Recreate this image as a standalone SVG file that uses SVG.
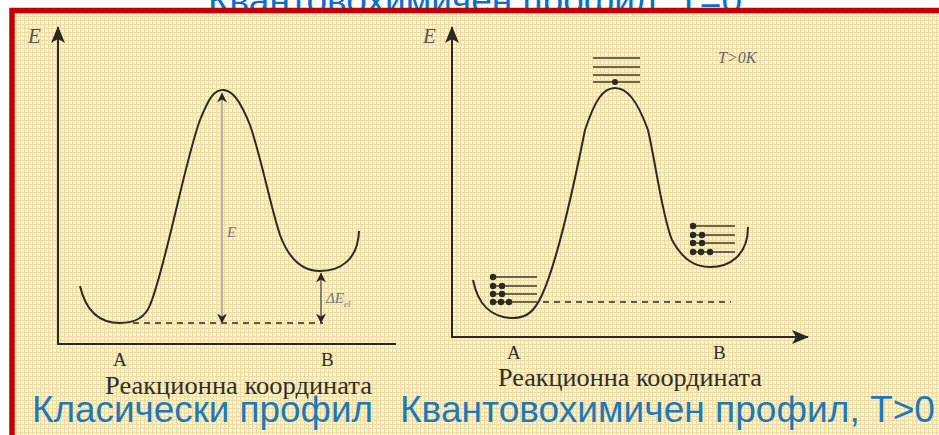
<svg xmlns="http://www.w3.org/2000/svg" width="939" height="435" viewBox="0 0 939 435">
<defs>
<pattern id="grid" width="4" height="4" patternUnits="userSpaceOnUse">
<rect width="4" height="4" fill="#f8f1d8"/>
<rect x="0" y="0" width="4" height="1" fill="#eddc9f"/>
<rect x="0" y="0" width="1" height="4" fill="#eddc9f"/>
</pattern>
<marker id="axhead" viewBox="0 0 17 14" refX="16" refY="7" markerWidth="17" markerHeight="14" markerUnits="userSpaceOnUse" orient="auto">
<path d="M0,0 L17,7 L0,14 L4,7 Z" fill="#2b2a22"/>
</marker>
<marker id="dimhead" viewBox="0 0 10 10" refX="9.5" refY="5" markerWidth="10" markerHeight="10" markerUnits="userSpaceOnUse" orient="auto-start-reverse">
<path d="M0,0 L10,5 L0,10 L3,5 Z" fill="#2b2a22"/>
</marker>
</defs>
<style>
.blue{font-family:"Liberation Sans",Arial,sans-serif;font-size:36px;fill:#1f79b7}
.ser{font-family:"Liberation Serif","Times New Roman",serif;fill:#2e2e28}
.it{font-style:italic}
.axis{stroke:#2b2a22;stroke-width:2;fill:none}
.curve{stroke:#2b2a22;stroke-width:2;fill:none}
.lvl{stroke:#3a3a30;stroke-width:1.6}
.dash{stroke:#2b2a22;stroke-width:1.6;stroke-dasharray:6 5}
.dot{fill:#2b2a22}
</style>
<rect width="939" height="435" fill="#ffffff"/>
<text id="title" class="blue" x="208" y="13" style="fill:#0b6fca" textLength="534" lengthAdjust="spacingAndGlyphs">Квантовохимичен профил, T=0</text>
<rect id="frame" x="12" y="10.5" width="960" height="460" fill="url(#grid)" stroke="#c40000" stroke-width="5.5"/>

<g id="classical">
<g id="left-axes">
<line class="axis" x1="58" y1="344" x2="58" y2="27" marker-end="url(#axhead)"/>
<line class="axis" x1="57" y1="344" x2="396" y2="344"/>
<text class="ser it" x="28" y="43" font-size="21" style="fill:#555">E</text>
</g>
<path id="left-curve" class="curve" d="M80,286 C86,312 100,323 120,323 C135,323 145,318 150,305 C165,270 185,160 200,120 C210,95 215,90 223,90 C232,90 240,100 250,125 C262,160 270,205 280,235 C290,262 305,271 320,271 C340,271 358,260 359,231"/>
<line class="dash" x1="133" y1="323" x2="323" y2="323"/>
<line x1="222" y1="93" x2="222" y2="323" stroke="#9a9a92" stroke-width="1.4" marker-start="url(#dimhead)" marker-end="url(#dimhead)"/>
<text class="ser it" x="227" y="237" font-size="15" style="fill:#777">E</text>
<line x1="321" y1="273" x2="321" y2="323" stroke="#555" stroke-width="1.4" marker-start="url(#dimhead)" marker-end="url(#dimhead)"/>
<text class="ser it" x="326" y="303" font-size="15" style="fill:#777">ΔE<tspan font-size="9" dy="4">el</tspan></text>
<text class="ser" x="113" y="366" font-size="19">A</text>
<text class="ser" x="321" y="366" font-size="19">B</text>
<text class="ser" x="105" y="394" font-size="25" textLength="267" lengthAdjust="spacingAndGlyphs">Реакционна координата</text>
</g>

<g id="quantum">
<g id="right-axes">
<line class="axis" x1="452" y1="337" x2="452" y2="27" marker-end="url(#axhead)"/>
<line class="axis" x1="451" y1="337" x2="808" y2="337" marker-end="url(#axhead)"/>
<text class="ser it" x="423" y="43" font-size="21" style="fill:#555">E</text>
</g>
<text class="ser it" x="718" y="63" font-size="16" style="fill:#666">T&gt;0K</text>
<path id="right-curve" class="curve" d="M473,280 C478,305 492,318 513,318 C528,318 535,310 542,295 C558,260 574,185 585,130 C595,100 603,88 615,88 C627,88 637,100 648,130 C657,170 662,215 672,240 C684,262 697,267 710,267 C730,267 748,255 748,227"/>
<g id="top-levels">
<line class="lvl" x1="593" y1="58" x2="640" y2="58"/>
<line class="lvl" x1="593" y1="67" x2="640" y2="67"/>
<line class="lvl" x1="593" y1="75" x2="640" y2="75"/>
<line class="lvl" x1="593" y1="82" x2="640" y2="82"/>
<circle class="dot" cx="615" cy="82" r="3"/>
</g>
<g id="a-levels">
<line class="lvl" x1="493" y1="277" x2="537" y2="277"/>
<line class="lvl" x1="493" y1="286" x2="537" y2="286"/>
<line class="lvl" x1="493" y1="294" x2="537" y2="294"/>
<line class="lvl" x1="493" y1="302" x2="537" y2="302"/>
<circle class="dot" cx="493" cy="277" r="3.2"/>
<circle class="dot" cx="493" cy="286" r="3.2"/><circle class="dot" cx="502" cy="286" r="3.2"/>
<circle class="dot" cx="493" cy="294" r="3.2"/><circle class="dot" cx="502" cy="294" r="3.2"/>
<circle class="dot" cx="493" cy="302" r="3.2"/><circle class="dot" cx="501" cy="302" r="3.2"/><circle class="dot" cx="509" cy="302" r="3.2"/>
</g>
<line class="dash" x1="543" y1="302" x2="731" y2="302"/>
<g id="b-levels">
<line class="lvl" x1="693" y1="226" x2="735" y2="226"/>
<line class="lvl" x1="693" y1="235" x2="735" y2="235"/>
<line class="lvl" x1="693" y1="243" x2="735" y2="243"/>
<line class="lvl" x1="693" y1="252" x2="735" y2="252"/>
<circle class="dot" cx="693" cy="226" r="3.2"/>
<circle class="dot" cx="693" cy="235" r="3.2"/><circle class="dot" cx="702" cy="235" r="3.2"/>
<circle class="dot" cx="693" cy="243" r="3.2"/><circle class="dot" cx="702" cy="243" r="3.2"/>
<circle class="dot" cx="693" cy="252" r="3.2"/><circle class="dot" cx="701" cy="252" r="3.2"/><circle class="dot" cx="710" cy="252" r="3.2"/>
</g>
<text class="ser" x="507" y="359" font-size="19">A</text>
<text class="ser" x="713" y="359" font-size="19">B</text>
<text class="ser" x="498" y="386" font-size="25" textLength="264" lengthAdjust="spacingAndGlyphs">Реакционна координата</text>
</g>

<text id="label-classical" class="blue" x="32" y="422" textLength="341" lengthAdjust="spacingAndGlyphs">Класически профил</text>
<text id="label-quantum" class="blue" x="400" y="422" textLength="535" lengthAdjust="spacingAndGlyphs">Квантовохимичен профил, T&gt;0</text>
</svg>
